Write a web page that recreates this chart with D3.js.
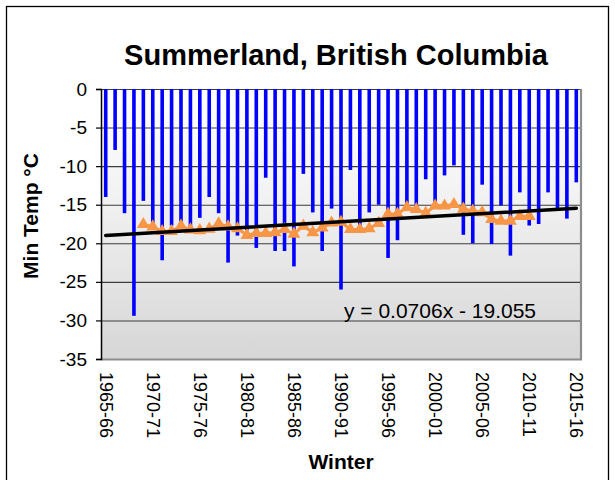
<!DOCTYPE html>
<html>
<head>
<meta charset="utf-8">
<script src="https://cdn.jsdelivr.net/npm/d3@7"></script>
<style>
  html, body { margin: 0; padding: 0; background: #ffffff; }
  svg { display: block; }
  text { font-family: Arial, "Liberation Sans", sans-serif; }
</style>
</head>
<body>
<svg id="chart" width="615" height="480"></svg>
<script>
// ---------- DATA ----------
const winters = ["1965-66","1966-67","1967-68","1968-69","1969-70","1970-71","1971-72","1972-73","1973-74","1974-75",
  "1975-76","1976-77","1977-78","1978-79","1979-80","1980-81","1981-82","1982-83","1983-84","1984-85",
  "1985-86","1986-87","1987-88","1988-89","1989-90","1990-91","1991-92","1992-93","1993-94","1994-95",
  "1995-96","1996-97","1997-98","1998-99","1999-00","2000-01","2001-02","2002-03","2003-04","2004-05",
  "2005-06","2006-07","2007-08","2008-09","2009-10","2010-11","2011-12","2012-13","2013-14","2014-15","2015-16"];

const minTemp = [-14.0, -7.9, -16.1, -29.4, -14.5, -17.4, -22.2, -17.7, -17.4, -17.9,
  -16.7, -14.0, -16.1, -22.5, -19.0, -18.3, -20.6, -11.5, -21.0, -21.0,
  -23.0, -11.0, -16.0, -21.0, -15.5, -26.0, -10.5, -18.2, -16.0, -15.0,
  -21.9, -19.6, -15.5, -15.4, -11.7, -15.2, -11.2, -9.9, -18.9, -20.0,
  -12.4, -20.1, -15.1, -21.6, -13.4, -17.7, -17.5, -13.4, -15.5, -16.8, -12.1];

const avgTemp = [null, null, null, null, -17.55, -17.85, -18.45, -18.45, -17.75, -18.25,
  -18.35, -18.15, -17.45, -17.85, -18.1, -18.95, -18.7, -18.7, -18.6, -18.2,
  -18.8, -17.75, -18.6, -18.0, -17.35, -17.25, -18.2, -18.2, -18.1, -17.4,
  -16.2, -16.2, -15.35, -15.6, -16.1, -15.15, -15.15, -14.95, -15.55, -15.8,
  -16.0, -16.9, -17.1, -17.1, -16.5, -16.5, null, null, null, null, null];

const xTickLabels = ["1965-66","1970-71","1975-76","1980-81","1985-86","1990-91","1995-96","2000-01","2005-06","2010-11","2015-16"];
const yTicks = [0, -5, -10, -15, -20, -25, -30, -35];
const trendSlope = 0.0706;
const trendIntercept = -19.055;
const trendLabel = "y = 0.0706x - 19.055";
const titleText = "Summerland, British Columbia";
const yTitle = "Min Temp °C";
const xTitle = "Winter";

// ---------- LAYOUT ----------
const svg = d3.select("#chart");
const plot = { left: 101, right: 581, top: 89, bottom: 359 };

const x = d3.scaleBand().domain(winters).range([plot.left, plot.right]).padding(0);
const y = d3.scaleLinear().domain([-35, 0]).range([plot.bottom, plot.top]);
const cx = d => x(d) + x.bandwidth() / 2;

// outer frame
svg.append("rect").attr("x", 6.5).attr("y", 6.5).attr("width", 602).attr("height", 480)
  .attr("fill", "#fff").attr("stroke", "#000").attr("stroke-width", 1.3);

// gradient background
const defs = svg.append("defs");
const grad = defs.append("linearGradient").attr("id", "bg").attr("x1", 0).attr("y1", 0).attr("x2", 0).attr("y2", 1);
grad.append("stop").attr("offset", "0%").attr("stop-color", "#ffffff");
grad.append("stop").attr("offset", "35%").attr("stop-color", "#f4f4f4");
grad.append("stop").attr("offset", "100%").attr("stop-color", "#d6d6d6");

svg.append("rect").attr("x", plot.left).attr("y", plot.top)
  .attr("width", plot.right - plot.left).attr("height", plot.bottom - plot.top)
  .attr("fill", "url(#bg)");

// gridlines
svg.append("g").selectAll("line").data(yTicks).join("line")
  .attr("x1", plot.left).attr("x2", plot.right)
  .attr("y1", d => y(d) + 0.5).attr("y2", d => y(d) + 0.5)
  .attr("stroke", "#3c3c3c").attr("stroke-width", 1.1);

// plot border right & bottom (gray)
svg.append("line").attr("x1", plot.right).attr("x2", plot.right).attr("y1", plot.top).attr("y2", plot.bottom + 1)
  .attr("stroke", "#8c8c8c").attr("stroke-width", 2.2);
svg.append("line").attr("x1", plot.left).attr("x2", plot.right + 1).attr("y1", plot.bottom + 0.5).attr("y2", plot.bottom + 0.5)
  .attr("stroke", "#8c8c8c").attr("stroke-width", 2.2);

// bars
const barW = 3.6;
svg.append("g").selectAll("rect").data(winters).join("rect")
  .attr("x", d => cx(d) - barW / 2)
  .attr("y", y(0))
  .attr("width", barW)
  .attr("height", (d, i) => y(minTemp[i]) - y(0))
  .attr("fill", "#0000ff");

// orange moving-average series
const avgPts = winters.map((w, i) => ({ w, v: avgTemp[i] })).filter(p => p.v !== null);
svg.append("path").datum(avgPts)
  .attr("d", d3.line().x(p => cx(p.w)).y(p => y(p.v)))
  .attr("fill", "none").attr("stroke", "#f79646").attr("stroke-width", 3);
const tri = d3.symbol().type(d3.symbolTriangle).size(72);
svg.append("g").selectAll("path").data(avgPts).join("path")
  .attr("transform", p => `translate(${cx(p.w)},${y(p.v)})`)
  .attr("d", tri)
  .attr("fill", "#f79646");

// trend line
const trendPts = [winters[0], winters[winters.length - 1]].map(w => {
  const idx = winters.indexOf(w) + 1;
  return { w, v: trendSlope * idx + trendIntercept };
});
svg.append("path").datum(trendPts)
  .attr("d", d3.line().x(p => cx(p.w)).y(p => y(p.v)))
  .attr("stroke", "#000").attr("stroke-width", 3.5).attr("stroke-linecap", "round").attr("fill", "none");

// left axis
const yAxis = d3.axisLeft(y).tickValues(yTicks).tickSize(5).tickPadding(9).tickFormat(d3.format("d"));
const gy = svg.append("g").attr("transform", `translate(${plot.left},0)`).call(yAxis);
gy.select(".domain").attr("stroke", "#000").attr("stroke-width", 1.5);
gy.selectAll(".tick line").attr("stroke", "#000").attr("stroke-width", 1.2);
gy.selectAll(".tick text").attr("font-size", 19).attr("fill", "#000")
  .attr("font-family", "Arial, 'Liberation Sans', sans-serif")
  .text(d => d === 0 ? "0" : "-" + Math.abs(d));

// x labels (rotated)
svg.append("g").selectAll("text").data(xTickLabels).join("text")
  .attr("transform", d => `translate(${cx(d) - 6},${plot.bottom + 13}) rotate(90)`)
  .attr("text-anchor", "start")
  .attr("font-size", 18)
  .attr("fill", "#000")
  .text(d => d);

// trend equation
svg.append("text").attr("x", 440).attr("y", 318).attr("text-anchor", "middle")
  .attr("font-size", 21).attr("fill", "#000").text(trendLabel);

// titles
svg.append("text").attr("x", 336).attr("y", 65).attr("text-anchor", "middle")
  .attr("font-size", 29).attr("font-weight", "bold").attr("fill", "#000").text(titleText);
svg.append("text").attr("transform", "translate(38,216) rotate(-90)").attr("text-anchor", "middle")
  .attr("font-size", 21).attr("font-weight", "bold").attr("fill", "#000").text(yTitle);
svg.append("text").attr("x", 341).attr("y", 469).attr("text-anchor", "middle")
  .attr("font-size", 21).attr("font-weight", "bold").attr("fill", "#000").text(xTitle);
</script>
</body>
</html>
